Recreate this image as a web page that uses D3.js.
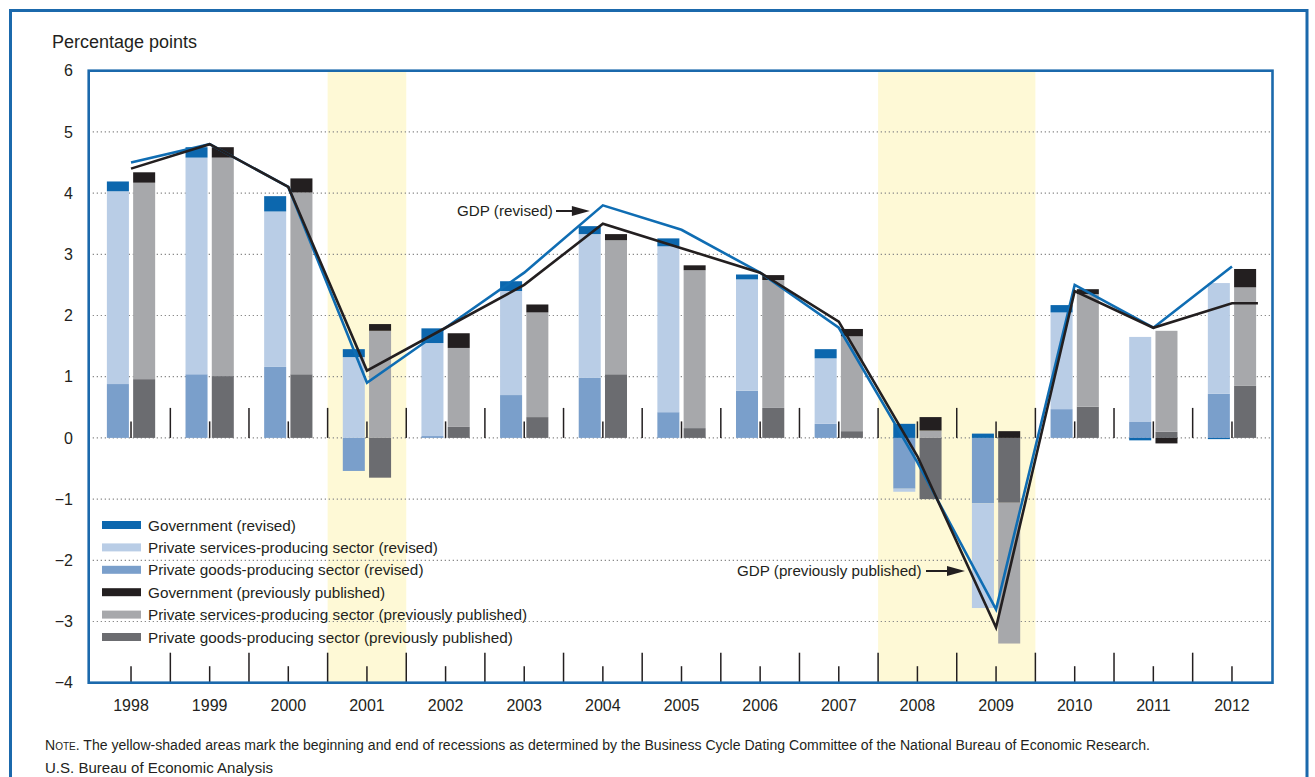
<!DOCTYPE html>
<html><head><meta charset="utf-8">
<script src="https://cdn.jsdelivr.net/npm/d3@7"></script>
<style>
html,body{margin:0;padding:0;background:#fff;}
svg{display:block;font-family:"Liberation Sans",Arial,Helvetica,sans-serif;}
</style></head>
<body>
<svg id="chart" width="1315" height="777"></svg>
<script>
// ---- data ----
const years = [1998,1999,2000,2001,2002,2003,2004,2005,2006,2007,2008,2009,2010,2011,2012];
const revGoods = [0.88,1.04,1.16,-0.54,0.03,0.70,0.98,0.42,0.77,0.23,-0.83,-1.07,0.47,0.26,0.72];
const revServ  = [3.15,3.54,2.54,1.32,1.52,1.70,2.35,2.71,1.82,1.07,-0.05,-1.71,1.58,1.39,1.81];
const revGov   = [0.16,0.17,0.25,0.13,0.24,0.16,0.13,0.13,0.08,0.15,0.23,0.07,0.12,-0.04,-0.02];
const prevGoods = [0.96,1.01,1.04,-0.65,0.18,0.34,1.04,0.16,0.49,0.11,-1.00,-1.06,0.51,0.10,0.85];
const prevServ  = [3.21,3.57,2.97,1.75,1.29,1.71,2.19,2.58,2.09,1.55,0.12,-2.30,1.84,1.65,1.61];
const prevGov   = [0.17,0.17,0.23,0.11,0.24,0.13,0.10,0.08,0.08,0.12,0.22,0.11,0.08,-0.09,0.30];
const gdpRevised  = [4.5,4.8,4.1,0.9,1.8,2.7,3.8,3.4,2.7,1.8,-0.4,-2.8,2.5,1.8,2.8];
const gdpPrevious = [4.4,4.8,4.1,1.1,1.8,2.5,3.5,3.1,2.7,1.9,-0.3,-3.1,2.4,1.8,2.2];
const recessionYears = [[2001,2001],[2008,2009]];
const yTicks = [6,5,4,3,2,1,0,-1,-2,-3,-4];
const legendLabels = [
  "Government (revised)",
  "Private services-producing sector (revised)",
  "Private goods-producing sector (revised)",
  "Government (previously published)",
  "Private services-producing sector (previously published)",
  "Private goods-producing sector (previously published)"
];
const noteText = "The yellow-shaded areas mark the beginning and end of recessions as determined by the Business Cycle Dating Committee of the National Bureau of Economic Research.";
const sourceText = "U.S. Bureau of Economic Analysis";

// ---- styles ----
const C = {
  frame:"#1b69ac", revGov:"#0c67ae", revServ:"#b9cde6", revGoods:"#7a9fcb",
  prevGov:"#231f20", prevServ:"#a7a8ab", prevGoods:"#6b6c70",
  recess:"#fef9d6", grid:"#8a8a8a", text:"#231f20", lineRev:"#0f6db3", linePrev:"#231f20"
};

const svg = d3.select("#chart");
const plot = {l:88.7, r:1272.5, t:70.7, b:682.7};
const x = d3.scaleBand().domain(years).range([91.7,1271.3]).padding(0);
const bw = x.bandwidth();
const cx = d => x(d) + bw/2;
const y = d3.scaleLinear().domain([-4,6]).range([682.7,70.7]);

// outer frame
svg.append("path").attr("d",`M10.5,800V10.5H1307V800`).attr("fill","none")
  .attr("stroke",C.frame).attr("stroke-width",3);

// recession bands
svg.selectAll("rect.rec").data(recessionYears).join("rect")
  .attr("x",d=>x(d[0])).attr("width",d=>x(d[1])+bw-x(d[0]))
  .attr("y",plot.t).attr("height",plot.b-plot.t).attr("fill",C.recess);

// gridlines
svg.selectAll("line.grid").data(yTicks.filter(v=>v>-4 && v<6)).join("line")
  .attr("x1",plot.l).attr("x2",plot.r).attr("y1",d=>y(d)).attr("y2",d=>y(d))
  .attr("stroke",C.grid).attr("stroke-width",1.2).attr("stroke-dasharray","1.3,2.7");

// stacked bars
const keys = ["goods","serv","gov"];
const revRows = years.map((yr,i)=>({year:yr,goods:revGoods[i],serv:revServ[i],gov:revGov[i]}));
const prevRows = years.map((yr,i)=>({year:yr,goods:prevGoods[i],serv:prevServ[i],gov:prevGov[i]}));
const stack = d3.stack().keys(keys).offset(d3.stackOffsetDiverging);
const barW = bw*0.28, gap = bw*0.027;
function drawBars(rows, colors, side){
  const series = stack(rows);
  svg.append("g").selectAll("g").data(series).join("g")
    .attr("fill",s=>colors[s.key])
    .selectAll("rect").data(s=>s).join("rect")
    .attr("x",d=> side<0 ? cx(d.data.year)-gap-barW : cx(d.data.year)+gap)
    .attr("width",barW)
    .attr("y",d=>y(Math.max(d[0],d[1])))
    .attr("height",d=>Math.abs(y(d[0])-y(d[1])));
}
drawBars(revRows,{goods:C.revGoods,serv:C.revServ,gov:C.revGov},-1);
drawBars(prevRows,{goods:C.prevGoods,serv:C.prevServ,gov:C.prevGov},1);

// tick marks at zero line and bottom
const bounds = years.slice(1).map(d=>x(d));
const tickG = svg.append("g").attr("stroke",C.text).attr("stroke-width",1.5);
[y(0), plot.b].forEach(base=>{
  tickG.selectAll(null).data(bounds).join("line")
    .attr("x1",d=>d).attr("x2",d=>d).attr("y1",base).attr("y2",base-30);
  tickG.selectAll(null).data(years).join("line")
    .attr("x1",d=>cx(d)).attr("x2",d=>cx(d)).attr("y1",base).attr("y2",base-16.5);
});

// GDP lines
const line = d3.line().x(d=>d[0]).y(d=>y(d[1]));
svg.append("path").datum(years.map((yr,i)=>[cx(yr),gdpRevised[i]]))
  .attr("d",line).attr("fill","none").attr("stroke",C.lineRev).attr("stroke-width",2.6)
  .attr("stroke-linejoin","miter");
const prevPts = years.map((yr,i)=>[cx(yr),gdpPrevious[i]]);
prevPts.push([cx(years[years.length-1])+bw*0.33, gdpPrevious[gdpPrevious.length-1]]);
svg.append("path").datum(prevPts)
  .attr("d",line).attr("fill","none").attr("stroke",C.linePrev).attr("stroke-width",2.6)
  .attr("stroke-linejoin","miter");

// plot border
svg.append("rect").attr("x",plot.l).attr("y",plot.t).attr("width",plot.r-plot.l).attr("height",plot.b-plot.t)
  .attr("fill","none").attr("stroke",C.frame).attr("stroke-width",2.6);

// y axis labels
svg.selectAll("text.yt").data(yTicks).join("text")
  .attr("x",73).attr("y",d=>y(d)).attr("dy","0.36em").attr("text-anchor","end")
  .attr("font-size",16).attr("fill",C.text)
  .text(d=> d<0 ? "\u2212"+Math.abs(d) : d);
svg.append("text").attr("x",52).attr("y",48).attr("font-size",18).attr("fill",C.text).text("Percentage points");

// x labels
svg.selectAll("text.xt").data(years).join("text")
  .attr("x",d=>cx(d)).attr("y",705).attr("dy","0.36em").attr("text-anchor","middle")
  .attr("font-size",16).attr("fill",C.text).text(d=>d);

// legend
const legColors = [C.revGov,C.revServ,C.revGoods,C.prevGov,C.prevServ,C.prevGoods];
const lg = svg.append("g");
legendLabels.forEach((lab,i)=>{
  const cy = 525 + i*22.4;
  lg.append("rect").attr("x",102).attr("y",cy-4).attr("width",39).attr("height",8).attr("fill",legColors[i]);
  lg.append("text").attr("x",148).attr("y",cy).attr("dy","0.36em").attr("font-size",15.3).attr("fill",C.text).text(lab);
});

// annotations
function arrow(x1,x2,yy){
  svg.append("line").attr("x1",x1).attr("x2",x2-14).attr("y1",yy).attr("y2",yy).attr("stroke",C.text).attr("stroke-width",2);
  svg.append("path").attr("d",`M${x2},${yy}L${x2-18},${yy-5}L${x2-18},${yy+5}Z`).attr("fill",C.text);
}
svg.append("text").attr("x",457).attr("y",211).attr("dy","0.36em").attr("font-size",15.2).attr("fill",C.text).text("GDP (revised)");
arrow(556, cx(2004)-13, 211);
svg.append("text").attr("x",737).attr("y",571).attr("dy","0.36em").attr("font-size",15.2).attr("fill",C.text).text("GDP (previously published)");
arrow(926, 965, 571);

// notes
const nt = svg.append("text").attr("x",45).attr("y",750).attr("font-size",14).attr("fill",C.text)
  .attr("textLength",1105).attr("lengthAdjust","spacingAndGlyphs");
nt.append("tspan").text("N");
nt.append("tspan").attr("font-size",10).text("OTE");
nt.append("tspan").text(". "+noteText);
svg.append("text").attr("x",45).attr("y",773).attr("font-size",14).attr("fill",C.text)
  .attr("textLength",228).attr("lengthAdjust","spacingAndGlyphs").text(sourceText);
</script>
</body></html>
